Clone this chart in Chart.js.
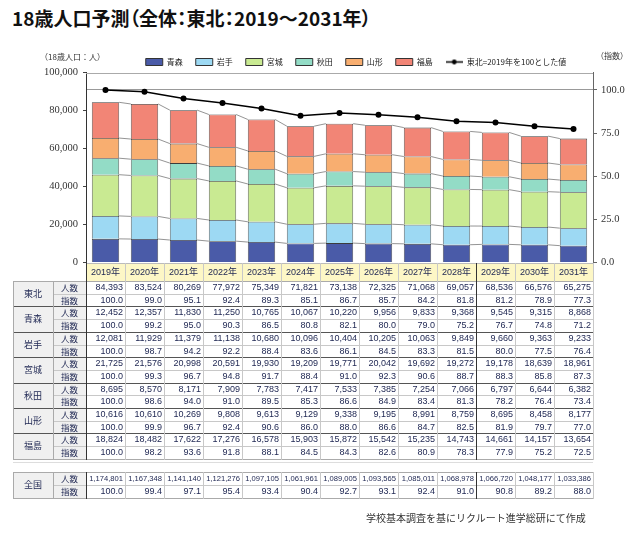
<!DOCTYPE html>
<html><head><meta charset="utf-8">
<script src="https://cdn.jsdelivr.net/npm/chart.js@4.4.0/dist/chart.umd.min.js"></script>
<style>
html,body{margin:0;padding:0;background:#fff;}
body{width:640px;height:537px;position:relative;overflow:hidden;font-family:"Noto Sans CJK JP",sans-serif;}
#title{position:absolute;left:12px;top:4px;font-size:19px;font-weight:bold;color:#111;font-feature-settings:"palt";white-space:nowrap;}
#wrap{position:absolute;left:0;top:0;width:640px;height:275px;}
.cap{position:absolute;font-size:8px;color:#333;white-space:nowrap;}
#tbl{position:absolute;left:0;top:0;width:640px;height:537px;pointer-events:none;}
.c{position:absolute;box-sizing:border-box;white-space:nowrap;overflow:visible;font-family:"Liberation Sans","Noto Sans CJK JP",sans-serif;font-size:9px;color:#222a55;}
.ln{position:absolute;}
#foot{position:absolute;left:366px;top:510px;font-size:10px;color:#333;white-space:nowrap;}
</style>
</head><body>
<div id="title">18歳人口予測（全体：東北：2019～2031年）</div>
<div id="wrap"><canvas id="cv" width="640" height="275"></canvas></div>
<div class="cap" style="left:40px;top:51px;">（18歳人口：人）</div>
<div class="cap" style="left:596px;top:50px;">（指数）</div>
<div id="tbl"></div>
<div id="foot">学校基本調査を基にリクルート進学総研にて作成</div>
<script>
const years = ['2019年','2020年','2021年','2022年','2023年','2024年','2025年','2026年','2027年','2028年','2029年','2030年','2031年'];
const prefNames = ['青森','岩手','宮城','秋田','山形','福島'];
const lineLabel = '東北=2019年を100とした値';

const tohokuPop = [84393,83524,80269,77972,75349,71821,73138,72325,71068,69057,68536,66576,65275];
const tohokuIdx = [100.0,99.0,95.1,92.4,89.3,85.1,86.7,85.7,84.2,81.8,81.2,78.9,77.3];
const aomoriPop = [12452,12357,11830,11250,10765,10067,10220,9956,9833,9368,9545,9315,8868];
const aomoriIdx = [100.0,99.2,95.0,90.3,86.5,80.8,82.1,80.0,79.0,75.2,76.7,74.8,71.2];
const iwatePop = [12081,11929,11379,11138,10680,10096,10404,10205,10063,9849,9660,9363,9233];
const iwateIdx = [100.0,98.7,94.2,92.2,88.4,83.6,86.1,84.5,83.3,81.5,80.0,77.5,76.4];
const miyagiPop = [21725,21576,20998,20591,19930,19209,19771,20042,19692,19272,19178,18639,18961];
const miyagiIdx = [100.0,99.3,96.7,94.8,91.7,88.4,91.0,92.3,90.6,88.7,88.3,85.8,87.3];
const akitaPop = [8695,8570,8171,7909,7783,7417,7533,7385,7254,7066,6797,6644,6382];
const akitaIdx = [100.0,98.6,94.0,91.0,89.5,85.3,86.6,84.9,83.4,81.3,78.2,76.4,73.4];
const yamagataPop = [10616,10610,10269,9808,9613,9129,9338,9195,8991,8759,8695,8458,8177];
const yamagataIdx = [100.0,99.9,96.7,92.4,90.6,86.0,88.0,86.6,84.7,82.5,81.9,79.7,77.0];
const fukushimaPop = [18824,18482,17622,17276,16578,15903,15872,15542,15235,14743,14661,14157,13654];
const fukushimaIdx = [100.0,98.2,93.6,91.8,88.1,84.5,84.3,82.6,80.9,78.3,77.9,75.2,72.5];
const zenkokuPop = [1174801,1167348,1141140,1121276,1097105,1061961,1089005,1093565,1085011,1068978,1066720,1048177,1033386];
const zenkokuIdx = [100.0,99.4,97.1,95.4,93.4,90.4,92.7,93.1,92.4,91.0,90.8,89.2,88.0];

const prefPops = [aomoriPop, iwatePop, miyagiPop, akitaPop, yamagataPop, fukushimaPop];
const barColors = ['#4a5ba8','#9dd9f3','#c9ea92','#93dcc6','#f8ae70','#f28576'];

// legend image for the line series
const lineImg = document.createElement('canvas');
lineImg.width = 17; lineImg.height = 7;
(function(){const c=lineImg.getContext('2d');c.strokeStyle='#000';c.fillStyle='#000';c.lineWidth=1.5;c.beginPath();c.moveTo(0,3.5);c.lineTo(17,3.5);c.stroke();c.beginPath();c.arc(8.5,3.5,2.4,0,Math.PI*2);c.fill();})();

const datasets = prefNames.map((n,i)=>({
  type:'bar', label:n, data:prefPops[i], backgroundColor:barColors[i],
  borderColor:'#3c3c3c', borderWidth:0.8, yAxisID:'y', stack:'s', order:1,
  barPercentage:0.7, categoryPercentage:1
}));
datasets.push({
  type:'line', label:lineLabel, data:tohokuIdx, yAxisID:'y2',
  borderColor:'#000', backgroundColor:'#000', borderWidth:1.5,
  pointRadius:3, pointBackgroundColor:'#000', pointBorderWidth:0, order:0, tension:0
});

const seriesLines = {
  id:'seriesLines',
  beforeDatasetsDraw(chart){
    const ctx = chart.ctx; ctx.save();
    ctx.strokeStyle = '#666'; ctx.lineWidth = 0.7;
    chart.data.datasets.forEach((ds,di)=>{
      if (ds.type !== 'bar') return;
      const els = chart.getDatasetMeta(di).data;
      for (let i=0;i<els.length-1;i++){
        const a = els[i].getProps(['x','y','width'],true);
        const b = els[i+1].getProps(['x','y','width'],true);
        ctx.beginPath(); ctx.moveTo(a.x+a.width/2, a.y); ctx.lineTo(b.x-b.width/2, b.y); ctx.stroke();
      }
    });
    ctx.restore();
  }
};
const frame = {
  id:'frame',
  afterDraw(chart){
    const {ctx, chartArea:a} = chart; ctx.save();
    ctx.strokeStyle='#aaa'; ctx.lineWidth=1;
    ctx.beginPath(); ctx.moveTo(a.left, Math.round(a.top)+0.5); ctx.lineTo(a.right, Math.round(a.top)+0.5); ctx.stroke();
    ctx.restore();
  }
};
// shift the legend row to the right, as in the original layout
const legendShift = {
  id:'legendShift',
  afterLayout(chart){ if (chart.legend){ chart.legend.left += 36; chart.legend.right += 36; } }
};

const chart = new Chart(document.getElementById('cv'), {
  data:{labels:years, datasets},
  plugins:[seriesLines, frame, legendShift],
  options:{
    responsive:false, animation:false,
    layout:{padding:{left:0,right:0,top:45,bottom:12.5}},
    plugins:{
      tooltip:{enabled:false},
      legend:{
        position:'top', maxHeight:27.7,
        labels:{
          usePointStyle:true, pointStyleWidth:17, boxHeight:7, padding:13,
          font:{size:8, family:'Noto Sans CJK JP'}, color:'#222',
          generateLabels(ch){
            const items = Chart.defaults.plugins.legend.labels.generateLabels(ch);
            items.sort((a,b)=>a.datasetIndex-b.datasetIndex);
            items.forEach(it=>{
              const ds = ch.data.datasets[it.datasetIndex];
              if (ds.type==='line'){ it.pointStyle = lineImg; }
              else { it.pointStyle='rect'; it.fillStyle=ds.backgroundColor; it.strokeStyle='#333'; it.lineWidth=1; }
            });
            return items;
          }
        }
      }
    },
    scales:{
      x:{display:false, stacked:true, offset:true, grid:{display:false}},
      y:{
        position:'left', stacked:true, min:0, max:100000,
        ticks:{stepSize:20000, callback:v=>v.toLocaleString('en-US'), font:{family:'Liberation Serif', size:10.5}, color:'#333', padding:5},
        grid:{drawOnChartArea:false, tickLength:3, color:'#444'},
        border:{color:'#333'},
        afterFit(s){ s.width = 86; }
      },
      y2:{
        position:'right', min:0, max:110,
        ticks:{stepSize:25, includeBounds:false, callback:v=>v.toFixed(1), font:{family:'Liberation Serif', size:10.5}, color:'#333', padding:4},
        grid:{color:ctx=>(ctx.tick && ctx.tick.value===100)?'#999':'rgba(0,0,0,0)', tickColor:'#666', tickLength:4},
        border:{color:'#666'},
        afterFit(s){ s.width = 47; }
      }
    }
  }
});

// ---- data table ----
const T = document.getElementById('tbl');
const xL0 = 13, xL1 = 53, xL2 = 86, colW = 39;
const yH0 = 263, yH1 = 281, rowH = 12.7;
const yZ0 = 472, rowHZ = 13;
const groups = [['東北',tohokuPop,tohokuIdx],['青森',aomoriPop,aomoriIdx],['岩手',iwatePop,iwateIdx],['宮城',miyagiPop,miyagiIdx],['秋田',akitaPop,akitaIdx],['山形',yamagataPop,yamagataIdx],['福島',fukushimaPop,fukushimaIdx]];
function box(x,y,w,h,bg){const d=document.createElement('div');d.className='ln';d.style.cssText=`left:${x}px;top:${y}px;width:${w}px;height:${h}px;background:${bg};`;T.appendChild(d);}
function txt(x,y,w,h,t,align,extra){const d=document.createElement('div');d.className='c';d.style.cssText=`left:${x}px;top:${y}px;width:${w}px;height:${h}px;line-height:${h}px;text-align:${align};`+(extra||'');d.textContent=t;T.appendChild(d);}
const xEnd = xL2 + colW*years.length;
box(xL2, yH0, xEnd-xL2, yH1-yH0, '#fdf7c6');
box(xL0, yH1, xL2-xL0, rowH*14, '#f0f0f0');
box(xL0, yZ0, xL2-xL0, rowHZ*2, '#f0f0f0');
years.forEach((y,i)=>txt(xL2+colW*i, yH0, colW, yH1-yH0, y, 'center', 'font-size:9px;'));
function fmtI(v){return v.toLocaleString('en-US');}
function fmtX(v){return v.toFixed(1);}
function block(y0, h, name, pop, idx, small){
  txt(xL0, y0, xL1-xL0, h*2, name, 'center', 'font-family:"Noto Sans CJK JP";font-size:9px;');
  txt(xL1, y0, xL2-xL1, h, '人数', 'center', 'font-family:"Noto Sans CJK JP";font-size:8.5px;');
  txt(xL1, y0+h, xL2-xL1, h, '指数', 'center', 'font-family:"Noto Sans CJK JP";font-size:8.5px;');
  pop.forEach((v,i)=>txt(xL2+colW*i, y0, colW-2, h, fmtI(v), 'right', small?'font-size:7.6px;':''));
  idx.forEach((v,i)=>txt(xL2+colW*i, y0+h, colW-2, h, fmtX(v), 'right'));
  box(xL1, y0+h, xEnd-xL1, 1, '#c8c8c8');
}
groups.forEach((g,gi)=>block(yH1+gi*2*rowH, rowH, g[0], g[1], g[2], false));
block(yZ0, rowHZ, '全国', zenkokuPop, zenkokuIdx, true);
box(xL2, yH0, xEnd-xL2, 1, '#bbb');
for (let g=0; g<=7; g++){
  const y = yH1 + g*2*rowH;
  box(xL0, y, xEnd-xL0, 1, (g===0||g===7)?'#aaa':'#555');
}
box(xL0, yH1+14*rowH+3, xEnd-xL0, 1, '#ddd');
box(xL0, yZ0, xEnd-xL0, 1, '#aaa');
box(xL0, yZ0+rowHZ*2, xEnd-xL0, 1, '#aaa');
function vlines(yA, yB, withHeader){
  box(xL0, yA, 1, yB-yA, '#aaa');
  box(xL1, yA, 1, yB-yA, '#aaa');
  for (let i=0;i<=years.length;i++){
    const x = xL2 + colW*i;
    const dark = (i===0 || i===10);
    box(x, withHeader?yH0:yA, 1, yB-(withHeader?yH0:yA), dark?'#333':'#c8c8c8');
  }
}
vlines(yH1, yH1+14*rowH+1, true);
vlines(yZ0, yZ0+rowHZ*2+1, false);
</script>
</body></html>
